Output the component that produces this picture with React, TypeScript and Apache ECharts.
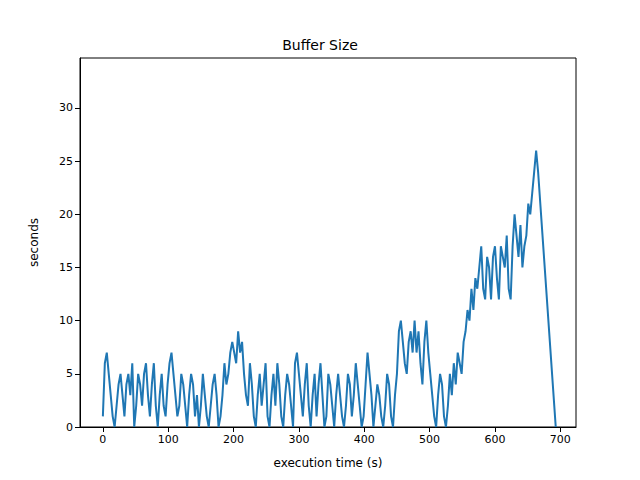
import React, { useEffect, useRef } from "react";
import * as echarts from "echarts";

const STEP = 3;
const values: number[] = [
  1,6,7,5,3,1,0,2,4,5,
  3,1,4,5,3,6,0,2,5,4,
  2,5,6,3,1,4,6,2,0,3,
  5,2,1,4,6,7,5,3,1,2,
  5,4,2,0,3,5,4,1,3,0,
  2,5,3,1,0,2,4,5,3,0,
  1,3,6,4,5,7,8,7,6,9,
  7,8,5,3,2,6,4,1,0,3,
  5,2,4,6,1,0,3,5,2,6,
  4,1,0,3,5,4,2,0,6,7,
  5,3,1,4,6,2,0,3,5,1,
  4,6,3,0,1,5,4,2,0,3,
  5,3,1,0,2,5,4,1,3,6,
  4,2,0,1,4,7,5,3,0,2,
  4,3,1,0,2,5,4,1,0,3,
  5,9,10,8,6,5,8,9,7,10,
  7,9,6,4,8,10,7,5,3,1,
  0,3,5,4,1,0,2,5,3,6,
  4,7,6,5,8,9,11,10,13,11,
  14,13,15,17,13,12,16,15,12,16,
  17,14,12,17,16,15,18,13,12,17,
  20,18,16,19,15,17,18,21,20,22,
  24,26,24,
];
const tailX = [693];
const tailY = [0];
const xTicks = [0, 100, 200, 300, 400, 500, 600, 700];

export default function App() {
  const ref = useRef<HTMLDivElement>(null);
  useEffect(() => {
    const chart = echarts.init(ref.current!, null, { renderer: "svg" });
    const data: number[][] = values.map((v, i) => [i * STEP, v]);
    tailX.forEach((x, i) => data.push([x, tailY[i]]));
    const font = "DejaVu Sans";
    chart.setOption({
      animation: false,
      textStyle: { fontFamily: font },
      title: { text: "Buffer Size", left: "center", top: 33, textStyle: { fontFamily: font, fontSize: 14, fontWeight: "normal", color: "#000" } },
      grid: { left: 80, right: 64, top: 58, bottom: 53 },
      xAxis: {
        type: "value", min: -35, max: 724,
        name: "execution time (s)", nameLocation: "middle", nameGap: 30,
        nameTextStyle: { fontFamily: font, fontSize: 12, color: "#000" },
        axisLine: { onZero: false, lineStyle: { color: "#000" } },
        axisTick: { show: true, length: 5, inside: false, customValues: xTicks, lineStyle: { color: "#000" } },
        axisLabel: { customValues: xTicks, fontFamily: font, fontSize: 11, color: "#000", margin: 7 },
        splitLine: { show: false },
      },
      yAxis: {
        type: "value", min: 0, max: 34.7, interval: 5,
        name: "seconds", nameLocation: "middle", nameGap: 40,
        nameTextStyle: { fontFamily: font, fontSize: 12, color: "#000" },
        axisLine: { show: true, onZero: false, lineStyle: { color: "#000" } },
        axisTick: { show: true, length: 5, lineStyle: { color: "#000" } },
        axisLabel: { fontFamily: font, fontSize: 11, color: "#000", showMaxLabel: false, margin: 7 },
        splitLine: { show: false },
      },
      graphic: [{ type: "rect", shape: { x: 80, y: 58, width: 496, height: 369 }, style: { fill: "none", stroke: "#000", lineWidth: 1 }, silent: true }],
      series: [{ type: "line", data, showSymbol: false, lineStyle: { color: "#1f77b4", width: 2 }, clip: true }],
    });
    return () => chart.dispose();
  }, []);
  return <div ref={ref} style={{ width: 640, height: 480, position: "absolute", left: 0, top: 0 }} />;
}
